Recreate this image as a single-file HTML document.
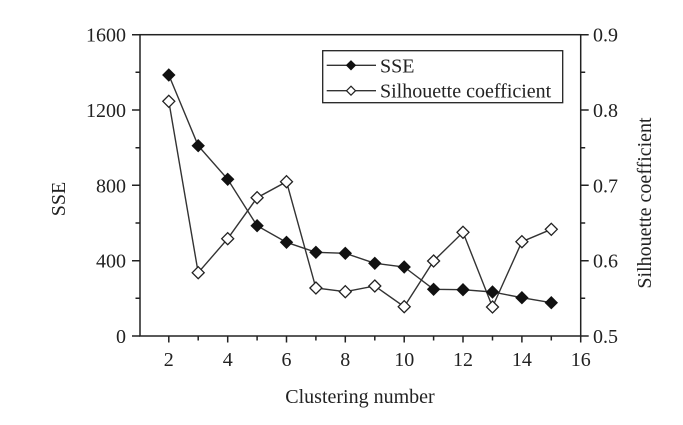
<!DOCTYPE html>
<html><head><meta charset="utf-8"><style>
html,body{margin:0;padding:0;background:#fff;}
svg{display:block;}
text{font-family:"Liberation Serif",serif;fill:#222;font-size:20px;}
</style></head><body>
<svg width="683" height="425" viewBox="0 0 683 425" xmlns="http://www.w3.org/2000/svg">
<g stroke="#222" stroke-width="1.5" fill="none">
<rect x="140" y="34.7" width="440.7" height="301.3"/>
<path d="M132 336H140M132 260.7H140M132 185.3H140M132 110H140M132 34.7H140M135.5 298.3H140M135.5 223H140M135.5 147.7H140M135.5 72.3H140"/>
<path d="M580.7 336H588.7M580.7 260.7H588.7M580.7 185.3H588.7M580.7 110H588.7M580.7 34.7H588.7M580.7 298.3H585.2M580.7 223H585.2M580.7 147.7H585.2M580.7 72.3H585.2"/>
<path d="M168.8 336V342.5M227.7 336V342.5M286.5 336V342.5M345.3 336V342.5M404.2 336V342.5M463 336V342.5M521.9 336V342.5M580.7 336V342.5M198.2 336V340.5M257.1 336V340.5M315.9 336V340.5M374.8 336V340.5M433.6 336V340.5M492.5 336V340.5M551.3 336V340.5"/>
</g>
<g text-anchor="end">
<text x="126" y="343">0</text>
<text x="126" y="267.7">400</text>
<text x="126" y="192.3">800</text>
<text x="126" y="117">1200</text>
<text x="126" y="41.7">1600</text>
</g>
<g text-anchor="start">
<text x="593" y="343">0.5</text>
<text x="593" y="267.7">0.6</text>
<text x="593" y="192.3">0.7</text>
<text x="593" y="117">0.8</text>
<text x="593" y="41.7">0.9</text>
</g>
<g text-anchor="middle">
<text x="168.8" y="366">2</text>
<text x="227.7" y="366">4</text>
<text x="286.5" y="366">6</text>
<text x="345.3" y="366">8</text>
<text x="404.2" y="366">10</text>
<text x="463" y="366">12</text>
<text x="521.9" y="366">14</text>
<text x="580.7" y="366">16</text>
<text x="360" y="403">Clustering number</text>
<text transform="translate(65,199) rotate(-90)">SSE</text>
<text transform="translate(651,203) rotate(-90)">Silhouette coefficient</text>
</g>
<polyline fill="none" stroke="#333" stroke-width="1.4" points="168.8,101.3 198.2,272.7 227.7,238.7 257.1,197.7 286.5,181.7 315.9,288 345.3,291.7 374.8,286 404.2,306.7 433.6,261 463,232.3 492.5,307 521.9,241.7 551.3,229.3"/>
<polyline fill="none" stroke="#333" stroke-width="1.4" points="168.8,75 198.2,145.7 227.7,179.3 257.1,225.7 286.5,242.3 315.9,252.3 345.3,253.3 374.8,263.3 404.2,267 433.6,289.3 463,289.7 492.5,292 521.9,297.7 551.3,302.7"/>
<defs>
<path id="d" d="M0 -6L6 0L0 6L-6 0Z"/>
</defs>
<g fill="#fff" stroke="#222" stroke-width="1.3">
<use href="#d" x="168.8" y="101.3"/><use href="#d" x="198.2" y="272.7"/><use href="#d" x="227.7" y="238.7"/><use href="#d" x="257.1" y="197.7"/><use href="#d" x="286.5" y="181.7"/><use href="#d" x="315.9" y="288"/><use href="#d" x="345.3" y="291.7"/><use href="#d" x="374.8" y="286"/><use href="#d" x="404.2" y="306.7"/><use href="#d" x="433.6" y="261"/><use href="#d" x="463" y="232.3"/><use href="#d" x="492.5" y="307"/><use href="#d" x="521.9" y="241.7"/><use href="#d" x="551.3" y="229.3"/>
</g>
<g fill="#111" stroke="#111" stroke-width="1">
<use href="#d" x="168.8" y="75"/><use href="#d" x="198.2" y="145.7"/><use href="#d" x="227.7" y="179.3"/><use href="#d" x="257.1" y="225.7"/><use href="#d" x="286.5" y="242.3"/><use href="#d" x="315.9" y="252.3"/><use href="#d" x="345.3" y="253.3"/><use href="#d" x="374.8" y="263.3"/><use href="#d" x="404.2" y="267"/><use href="#d" x="433.6" y="289.3"/><use href="#d" x="463" y="289.7"/><use href="#d" x="492.5" y="292"/><use href="#d" x="521.9" y="297.7"/><use href="#d" x="551.3" y="302.7"/>
</g>
<rect x="322.7" y="50.7" width="240" height="52" fill="#fff" stroke="#222" stroke-width="1.3"/>
<path d="M326.7 65.3H376M326.7 90.7H376" stroke="#333" stroke-width="1.4"/>
<path d="M351 60.8L355.5 65.3L351 69.8L346.5 65.3Z" fill="#111" stroke="#111" stroke-width="1"/>
<path d="M351 86.2L355.5 90.7L351 95.2L346.5 90.7Z" fill="#fff" stroke="#222" stroke-width="1.2"/>
<text x="380" y="72.3">SSE</text>
<text x="380" y="97.7">Silhouette coefficient</text>
</svg>
</body></html>
